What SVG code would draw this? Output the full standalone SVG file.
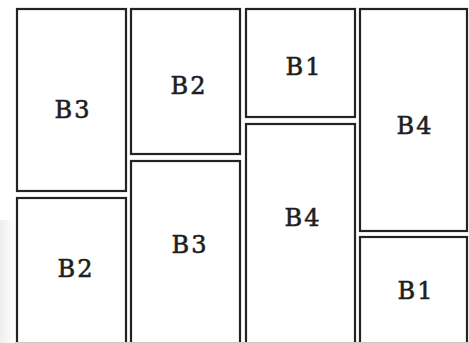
<svg xmlns="http://www.w3.org/2000/svg" width="469" height="343" viewBox="0 0 469 343">
<defs>
<style>
.box{fill:#fff;stroke:#232323;stroke-width:2.2}
.lbl{font-family:"DejaVu Serif","Liberation Mono",serif;font-size:24px;fill:#1e1e1e;stroke:#1e1e1e;stroke-width:0.6;letter-spacing:2px;text-anchor:middle}
</style>
<linearGradient id="shade" x1="0" y1="0" x2="1" y2="0">
<stop offset="0" stop-color="#eeeeee"/>
<stop offset="1" stop-color="#ffffff"/>
</linearGradient>
</defs>
<rect x="0" y="0" width="469" height="343" fill="#fff"/>
<rect x="0" y="220" width="15" height="123" fill="url(#shade)"/>
<g id="c1-b3"><rect class="box" x="17" y="9" width="109" height="182"/><text class="lbl" x="73" y="118">B3</text></g>
<g id="c1-b2"><rect class="box" x="17" y="198" width="109" height="160"/><text class="lbl" x="76" y="277">B2</text></g>
<g id="c2-b2"><rect class="box" x="131" y="9" width="109" height="145"/><text class="lbl" x="189" y="94">B2</text></g>
<g id="c2-b3"><rect class="box" x="131" y="161" width="109" height="197"/><text class="lbl" x="190" y="253">B3</text></g>
<g id="c3-b1"><rect class="box" x="246" y="9" width="109" height="108"/><text class="lbl" x="304" y="75">B1</text></g>
<g id="c3-b4"><rect class="box" x="246" y="124" width="109" height="234"/><text class="lbl" x="303" y="226">B4</text></g>
<g id="c4-b4"><rect class="box" x="360" y="9" width="107" height="222"/><text class="lbl" x="415" y="134">B4</text></g>
<g id="c4-b1"><rect class="box" x="360" y="237" width="107" height="121"/><text class="lbl" x="416" y="299">B1</text></g>
<g id="connectors"></g>
<line x1="15" y1="342.5" x2="469" y2="342.5" stroke="#c8c8c8" stroke-width="1"/>
</svg>
